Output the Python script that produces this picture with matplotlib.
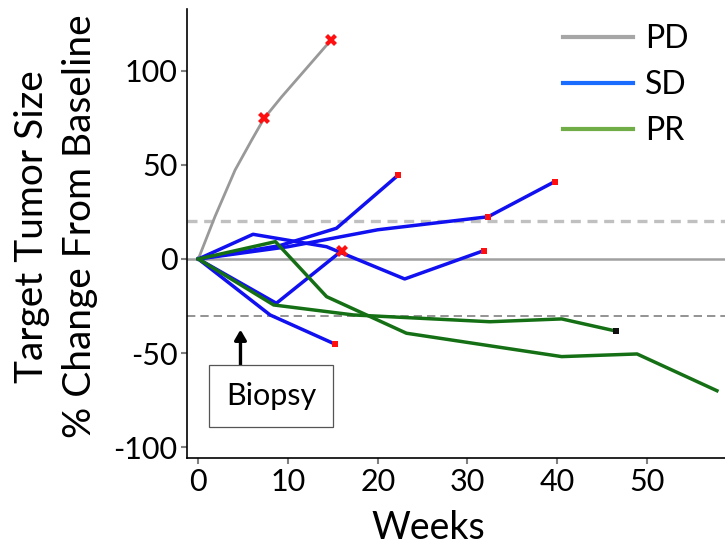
import matplotlib.pyplot as plt
from matplotlib.lines import Line2D

plt.rcParams['font.family'] = ['Lato', 'DejaVu Sans']
plt.rcParams['axes.unicode_minus'] = False

# weeks / % change for each patient
pd_weeks = [0, 1.85, 4.1, 5.95, 7.33, 9.3, 14.8]
pd_vals = [0, 22.4, 47.2, 63.1, 74.6, 86.1, 116.2]
pd_marks = [(7.33, 74.6), (14.8, 116.2)]

sd_lines = [
    ([0, 6.1, 14.3, 23.0, 31.8], [0, 13.1, 6.5, -10.6, 4.4]),
    ([0, 9.0, 15.4, 22.3], [0, 7.0, 16.3, 44.6]),
    ([0, 10.0, 20.0, 32.3, 39.7], [0, 6.5, 15.5, 22.4, 41.0]),
    ([0, 8.7, 16.0], [0, -23.5, 4.4]),
    ([0, 8.0, 15.2], [0, -29.7, -45.1]),
]
sd_ends = [(31.8, 4.4), (22.3, 44.6), (32.3, 22.4), (39.7, 41.0), (15.2, -45.1)]
sd_cross = [(16.0, 4.4)]

pr_lines = [
    ([0, 8.6, 14.3, 23.2, 40.5, 48.9, 57.8], [0, 9.2, -20, -39.4, -51.8, -50.4, -69.9]),
    ([0, 8.4, 17.3, 32.5, 40.5, 46.5], [0, -24.4, -29.7, -33.3, -31.8, -38.2]),
]
pr_ends = [(46.5, -38.2)]

biopsy_week = 4.7

fig = plt.figure(figsize=(7.25, 5.45), dpi=100)
ax = fig.add_axes([187 / 725, 1 - 458 / 545, 1 - 187 / 725, (458 - 8.7) / 545])

# reference lines: baseline, +20% and -30%
ax.axhline(0, color='#a0a0a0', lw=1.8, zorder=1)
ax.axhline(20, color='#c0c0c0', lw=2.4, ls=(0, (3, 2)), zorder=1)
ax.axhline(-30, color='#808080', lw=1.2, ls=(0, (5, 3)), zorder=1)

ax.plot(pd_weeks, pd_vals, color='#999999', lw=2.0, zorder=2)
for w, v in sd_lines:
    ax.plot(w, v, color='#1010f0', lw=2.5, zorder=3)
for w, v in pr_lines:
    ax.plot(w, v, color='#157015', lw=2.5, zorder=3)

mx, my = zip(*pd_marks + sd_cross)
ax.plot(mx, my, 'X', color='#ff1010', ms=8.5, mew=0, zorder=5)
ex, ey = zip(*sd_ends)
ax.plot(ex, ey, 's', color='#ff1010', ms=4, mew=0, zorder=5)
bx, by = zip(*pr_ends)
ax.plot(bx, by, 's', color='#111111', ms=4, mew=0, zorder=5)

# biopsy annotation
ax.annotate('', xy=(biopsy_week, -37.5), xytext=(biopsy_week, -57.5),
            arrowprops=dict(arrowstyle='-|>,head_width=0.35,head_length=0.6',
                            color='black', lw=2.4, shrinkA=0, shrinkB=0))
ax.text(8.1, -72.6, 'Biopsy', ha='center', va='center', fontsize=22,
        bbox=dict(boxstyle='square,pad=0.55', fc='white', ec='#555555', lw=0.9))

ax.set_xlim(-1.26, 58.7)
ax.set_ylim(-105.6, 132.8)
ax.set_xticks([0, 10, 20, 30, 40, 50])
ax.set_yticks([-100, -50, 0, 50, 100])
ax.tick_params(labelsize=22, color='#808080', width=1.5, length=4, pad=3)
for s in ['top', 'right']:
    ax.spines[s].set_visible(False)
for s in ['left', 'bottom']:
    ax.spines[s].set_linewidth(1.2)

ax.set_xlabel('Weeks', fontsize=27, labelpad=0)
ax.xaxis.set_label_coords(0.448, -0.115)
ax.set_ylabel('Target Tumor Size\n% Change From Baseline', fontsize=28, linespacing=1.4)
ax.yaxis.set_label_coords(-0.166, 0.515)

handles = [Line2D([], [], color='#a6a6a6', lw=3),
           Line2D([], [], color='#1a6cff', lw=3),
           Line2D([], [], color='#70ad47', lw=3)]
ax.legend(handles, ['PD', 'SD', 'PR'], loc='upper right', bbox_to_anchor=(0.985, 1.03),
          frameon=False, fontsize=23, handlelength=2.2, handletextpad=0.35,
          labelspacing=0.5)

fig.savefig('out.png', dpi=100)
